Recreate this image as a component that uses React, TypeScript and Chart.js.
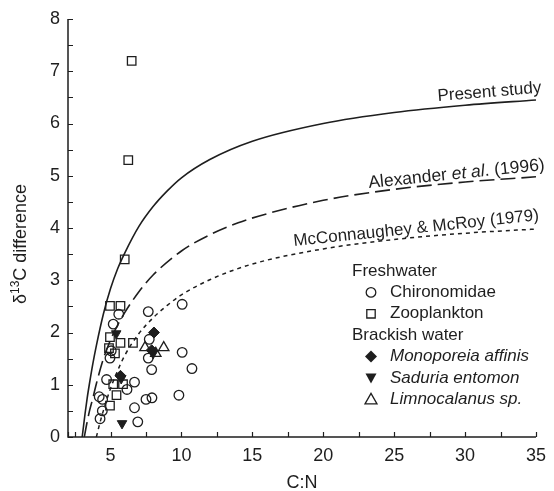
import React, { useEffect, useRef } from 'react';
import { Chart, registerables } from 'chart.js';

Chart.register(...registerables);

const FONT = '"Liberation Sans", Arimo, Arial, Helvetica, sans-serif';
const INK = '#1e1e1e';

// Axis ticks
const xTickValues = [2, 2.5, 5, 7.5, 10, 12.5, 15, 17.5, 20, 22.5, 25, 27.5, 30, 32.5, 35];
const xTickLabels = [5, 10, 15, 20, 25, 30, 35];
const yTickValues = [0, 0.5, 1, 1.5, 2, 2.5, 3, 3.5, 4, 4.5, 5, 5.5, 6, 6.5, 7, 7.5, 8];
const yTickLabels = [0, 1, 2, 3, 4, 5, 6, 7, 8];

// Freshwater: Chironomidae (open circles)
const chiroX = [5.58, 7.66, 10.05, 5.19, 7.73, 4.96, 7.66, 7.9, 10.05, 10.74, 4.72, 6.69, 6.16, 4.2, 4.44, 4.42, 4.26, 7.5, 7.92, 9.82, 6.69, 6.92, 5.05];
const chiroY = [2.35, 2.4, 2.54, 2.16, 1.87, 1.51, 1.51, 1.29, 1.62, 1.31, 1.1, 1.05, 0.91, 0.77, 0.72, 0.5, 0.35, 0.72, 0.75, 0.8, 0.56, 0.29, 1.65];

// Freshwater: Zooplankton (open squares)
const zooX = [6.49, 6.25, 6.0, 4.96, 5.7, 4.96, 5.7, 6.58, 4.89, 5.31, 5.19, 5.88, 5.42, 4.96];
const zooY = [7.2, 5.3, 3.4, 2.51, 2.51, 1.91, 1.8, 1.8, 1.7, 1.6, 1.01, 1.01, 0.8, 0.6];

// Brackish: Monoporeia affinis (filled diamonds)
const monoX = [8.06, 7.9, 5.7];
const monoY = [2.0, 1.66, 1.17];

// Brackish: Saduria entomon (filled down triangles)
const sadX = [5.4, 5.81, 5.75, 8.0];
const sadY = [1.98, 0.26, 1.12, 1.6];

// Brackish: Limnocalanus sp. (open triangles)
const limX = [7.43, 8.75, 8.19];
const limY = [1.71, 1.71, 1.6];

// Curves
const presentX = [3.0, 3.1, 3.2, 3.35, 3.5, 3.75, 4, 4.5, 5, 5.5, 6, 7, 8, 9, 10, 12, 15, 20, 25, 30, 35];
const presentY = [0, 0.22, 0.44, 0.74, 1.0, 1.4, 1.75, 2.36, 2.84, 3.22, 3.52, 4.03, 4.41, 4.71, 4.96, 5.31, 5.66, 6.0, 6.21, 6.35, 6.45];

const alexX = [3.15, 3.3, 3.5, 3.75, 4, 4.5, 5, 5.5, 6, 7, 8, 10, 12, 14, 16, 20, 25, 30, 35];
const alexY = [0, 0.22, 0.48, 0.74, 1.02, 1.5, 1.86, 2.14, 2.38, 2.78, 3.1, 3.56, 3.87, 4.1, 4.27, 4.53, 4.74, 4.88, 4.98];

const mcX = [4.0, 4.25, 4.5, 5, 5.5, 6, 7, 8, 9, 10, 12, 15, 20, 25, 30, 35];
const mcY = [0, 0.27, 0.51, 0.93, 1.27, 1.56, 1.98, 2.28, 2.52, 2.72, 3.01, 3.31, 3.6, 3.78, 3.9, 3.98];

const pts = (xs: number[], ys: number[]) => xs.map((x, i) => ({ x, y: ys[i] }));

function drawMarker(ctx: CanvasRenderingContext2D, kind: string, x: number, y: number) {
  ctx.beginPath();
  ctx.lineWidth = 1.3;
  ctx.strokeStyle = INK;
  ctx.fillStyle = INK;
  if (kind === 'circle') {
    ctx.arc(x, y, 4.8, 0, Math.PI * 2);
    ctx.stroke();
  } else if (kind === 'square') {
    ctx.rect(x - 4.2, y - 4.2, 8.4, 8.4);
    ctx.stroke();
  } else if (kind === 'diamond') {
    ctx.moveTo(x, y - 6);
    ctx.lineTo(x + 6, y);
    ctx.lineTo(x, y + 6);
    ctx.lineTo(x - 6, y);
    ctx.closePath();
    ctx.fill();
  } else if (kind === 'down') {
    ctx.moveTo(x - 5.5, y - 4.5);
    ctx.lineTo(x + 5.5, y - 4.5);
    ctx.lineTo(x, y + 5.5);
    ctx.closePath();
    ctx.fill();
  } else if (kind === 'up') {
    ctx.moveTo(x, y - 6);
    ctx.lineTo(x + 6, y + 4.5);
    ctx.lineTo(x - 6, y + 4.5);
    ctx.closePath();
    ctx.stroke();
  }
}

function drawSegments(ctx: CanvasRenderingContext2D, segs: { t: string; italic?: boolean }[], size: number) {
  let x = 0;
  for (const s of segs) {
    ctx.font = `${s.italic ? 'italic ' : ''}${size}px ${FONT}`;
    ctx.fillText(s.t, x, 0);
    x += ctx.measureText(s.t).width;
  }
}

const decorPlugin = {
  id: 'decor',
  afterDraw(chart: any) {
    const { ctx, chartArea } = chart;
    const xs = chart.scales.x;
    const ys = chart.scales.y;
    const { left, right, top, bottom } = chartArea;
    ctx.save();
    // axes
    ctx.strokeStyle = INK;
    ctx.lineWidth = 1.5;
    ctx.beginPath();
    ctx.moveTo(left, top);
    ctx.lineTo(left, bottom);
    ctx.lineTo(right, bottom);
    ctx.stroke();
    // inward ticks
    ctx.lineWidth = 1.2;
    ctx.beginPath();
    for (const v of yTickValues) {
      const py = Math.round(ys.getPixelForValue(v)) + 0.5;
      ctx.moveTo(left, py);
      ctx.lineTo(left + 5, py);
    }
    for (const v of xTickValues) {
      const px = Math.round(xs.getPixelForValue(v)) + 0.5;
      ctx.moveTo(px, bottom);
      ctx.lineTo(px, bottom - 5);
    }
    ctx.stroke();

    ctx.fillStyle = INK;
    // x title
    ctx.font = `18px ${FONT}`;
    ctx.textAlign = 'center';
    ctx.textBaseline = 'middle';
    ctx.fillText('C:N', (left + right) / 2, 483);

    // y title with superscript
    ctx.save();
    ctx.translate(21, 244);
    ctx.rotate(-Math.PI / 2);
    ctx.textAlign = 'left';
    ctx.textBaseline = 'middle';
    ctx.font = `18px ${FONT}`;
    const wA = ctx.measureText('δ').width;
    const wC = ctx.measureText('C difference').width;
    ctx.font = `12px ${FONT}`;
    const wB = ctx.measureText('13').width;
    const x0 = -(wA + wB + wC) / 2;
    ctx.font = `18px ${FONT}`;
    ctx.fillText('δ', x0, 0);
    ctx.font = `12px ${FONT}`;
    ctx.fillText('13', x0 + wA, -5);
    ctx.font = `18px ${FONT}`;
    ctx.fillText('C difference', x0 + wA + wB, 0);
    ctx.restore();

    // curve labels
    ctx.textAlign = 'left';
    ctx.textBaseline = 'alphabetic';
    const lbl = (x: number, y: number, deg: number, segs: { t: string; italic?: boolean }[], size: number) => {
      ctx.save();
      ctx.translate(x, y);
      ctx.rotate((deg * Math.PI) / 180);
      drawSegments(ctx, segs, size);
      ctx.restore();
    };
    lbl(438, 101, -4.6, [{ t: 'Present study' }], 17);
    lbl(369, 188, -5.9, [{ t: 'Alexander ' }, { t: 'et al', italic: true }, { t: '. (1996)' }], 17.5);
    lbl(294, 246, -6.0, [{ t: 'McConnaughey & McRoy (1979)' }], 17);

    // legend
    const rows: { kind?: string; text: string; italic?: boolean; head?: boolean }[] = [
      { text: 'Freshwater', head: true },
      { kind: 'circle', text: 'Chironomidae' },
      { kind: 'square', text: 'Zooplankton' },
      { text: 'Brackish water', head: true },
      { kind: 'diamond', text: 'Monoporeia affinis', italic: true },
      { kind: 'down', text: 'Saduria entomon', italic: true },
      { kind: 'up', text: 'Limnocalanus sp.', italic: true },
    ];
    ctx.textBaseline = 'middle';
    rows.forEach((r, i) => {
      const y = 271 + i * 21.4;
      ctx.fillStyle = INK;
      if (r.head) {
        ctx.font = `17px ${FONT}`;
        ctx.fillText(r.text, 352, y);
      } else {
        drawMarker(ctx, r.kind as string, 371, y);
        ctx.fillStyle = INK;
        ctx.font = `${r.italic ? 'italic ' : ''}17px ${FONT}`;
        ctx.fillText(r.text, 390, y);
      }
    });
    ctx.restore();
  },
};

export default function App() {
  const ref = useRef<HTMLCanvasElement | null>(null);
  useEffect(() => {
    if (!ref.current) return;
    const open = 'rgba(0,0,0,0)';
    const chart = new Chart(ref.current, {
      type: 'scatter',
      data: {
        datasets: [
          { label: 'Chironomidae', data: pts(chiroX, chiroY), pointStyle: 'circle', pointRadius: 4.8, borderColor: INK, backgroundColor: open, borderWidth: 1.3 },
          { label: 'Zooplankton', data: pts(zooX, zooY), pointStyle: 'rect', pointRadius: 6, borderColor: INK, backgroundColor: open, borderWidth: 1.3 },
          { label: 'Monoporeia affinis', data: pts(monoX, monoY), pointStyle: 'rectRot', pointRadius: 5.5, borderColor: INK, backgroundColor: INK, borderWidth: 1 },
          { label: 'Saduria entomon', data: pts(sadX, sadY), pointStyle: 'triangle', rotation: 180, pointRadius: 5.5, borderColor: INK, backgroundColor: INK, borderWidth: 1 },
          { label: 'Limnocalanus sp.', data: pts(limX, limY), pointStyle: 'triangle', pointRadius: 6, borderColor: INK, backgroundColor: open, borderWidth: 1.3 },
          { label: 'Present study', data: pts(presentX, presentY), showLine: true, pointRadius: 0, borderColor: INK, borderWidth: 1.6, cubicInterpolationMode: 'monotone' },
          { label: 'Alexander et al. (1996)', data: pts(alexX, alexY), showLine: true, pointRadius: 0, borderColor: INK, borderWidth: 1.6, borderDash: [15, 6], cubicInterpolationMode: 'monotone' },
          { label: 'McConnaughey & McRoy (1979)', data: pts(mcX, mcY), showLine: true, pointRadius: 0, borderColor: INK, borderWidth: 1.5, borderDash: [4, 4], cubicInterpolationMode: 'monotone' },
        ] as any,
      },
      options: {
        animation: false,
        responsive: false,
        layout: { padding: { top: 19, right: 11, left: 0, bottom: 0 } },
        plugins: { legend: { display: false }, tooltip: { enabled: false } },
        scales: {
          x: {
            type: 'linear',
            min: 2,
            max: 35,
            grid: { display: false, drawTicks: false },
            border: { display: false },
            afterBuildTicks: (s: any) => { s.ticks = xTickValues.map((v) => ({ value: v })); },
            afterFit: (s: any) => { s.height = 54; },
            ticks: {
              autoSkip: false,
              maxRotation: 0,
              padding: 8,
              color: INK,
              font: { family: FONT, size: 18 },
              callback: (v: any) => (xTickLabels.includes(Number(v)) ? String(v) : ''),
            },
          },
          y: {
            type: 'linear',
            min: 0,
            max: 8,
            grid: { display: false, drawTicks: false },
            border: { display: false },
            afterBuildTicks: (s: any) => { s.ticks = yTickValues.map((v) => ({ value: v })); },
            afterFit: (s: any) => { s.width = 68; },
            ticks: {
              autoSkip: false,
              padding: 8,
              color: INK,
              font: { family: FONT, size: 18 },
              callback: (v: any) => (yTickLabels.includes(Number(v)) ? String(v) : ''),
            },
          },
        },
      },
      plugins: [decorPlugin],
    } as any);
    return () => chart.destroy();
  }, []);
  return (
    <div style={{ position: 'absolute', left: 0, top: 0, width: 554, height: 491, background: '#fff' }}>
      <canvas ref={ref} width={554} height={491} style={{ display: 'block' }} />
    </div>
  );
}
